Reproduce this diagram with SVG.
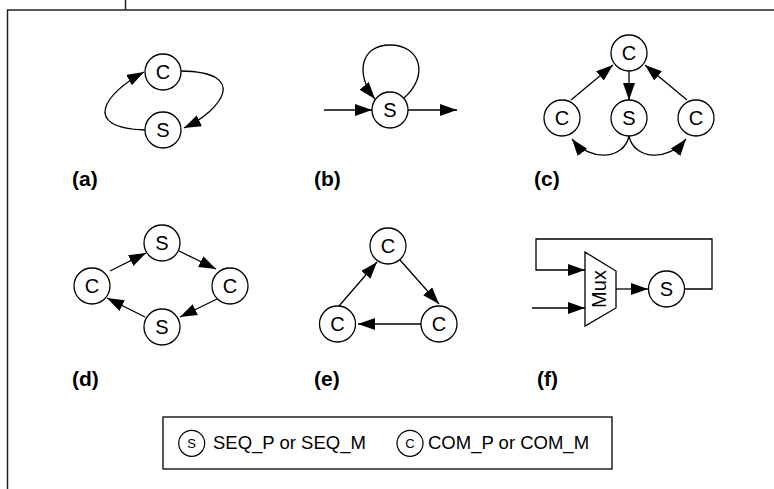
<svg xmlns="http://www.w3.org/2000/svg" width="774" height="489" viewBox="0 0 774 489">
<defs>
<marker id="ah" markerUnits="userSpaceOnUse" markerWidth="19" markerHeight="13" refX="17" refY="6" orient="auto">
<path d="M0,0 L17,6 L0,12 z" fill="#000"/>
</marker>
<style>
.n circle{fill:#fff;stroke:#000;stroke-width:1.3}
.n text{font-family:"Liberation Sans",Arial,sans-serif;font-size:20px;text-anchor:middle;fill:#000}
.e path,.e line,.e polyline{fill:none;stroke:#000;stroke-width:1.3}
.a{marker-end:url(#ah)}
.lbl{font-family:"Liberation Sans",Arial,sans-serif;font-size:21px;font-weight:bold;fill:#000}
.lg{font-family:"Liberation Sans",Arial,sans-serif;font-size:18.5px;fill:#000}
.lgc{fill:#fff;stroke:#000;stroke-width:1.2}
.lgt{font-family:"Liberation Sans",Arial,sans-serif;font-size:13px;text-anchor:middle;fill:#000}
</style>
</defs>
<rect width="774" height="489" fill="#fff"/>
<g id="frame" fill="none" stroke="#222" stroke-width="1.5">
<polyline points="7.5,489 7.5,10 774,10"/>
<line x1="125.5" y1="0" x2="125.5" y2="10"/>
</g>
<g id="connectors" class="e">
<path class="a" d="M145,130 C80,128 105,93 144,72"/>
<path class="a" d="M181,71 C250,72 222,110 184,128"/>
<path class="a" d="M404,98 C430,75 420,45 390,45 C360,45 355,75 375,99"/>
<line class="a" x1="324" y1="110" x2="372" y2="110"/>
<line class="a" x1="408" y1="110" x2="457" y2="110"/>
<line class="a" x1="571" y1="100" x2="613" y2="65"/>
<line class="a" x1="629" y1="71" x2="629" y2="100"/>
<line class="a" x1="687" y1="100" x2="645" y2="65"/>
<path class="a" d="M629,136 C624,160 590,162 572,139"/>
<path class="a" d="M629,136 C634,160 668,162 686,139"/>
<line class="a" x1="110" y1="271" x2="146" y2="253"/>
<line class="a" x1="179" y1="251" x2="216" y2="269"/>
<line class="a" x1="217" y1="299" x2="180" y2="317"/>
<line class="a" x1="145" y1="317" x2="107" y2="298"/>
<line class="a" x1="339" y1="306" x2="377" y2="262"/>
<line class="a" x1="400" y1="260" x2="439" y2="304"/>
<line class="a" x1="421" y1="324" x2="358" y2="324"/>
<line class="a" x1="616" y1="289" x2="648" y2="289"/>
<polyline class="a" points="685,289 712,289 712,239 536,239 536,270 585,270"/>
<line class="a" x1="532" y1="308" x2="585" y2="308"/>
</g>
<g id="a-C" class="n"><circle cx="163" cy="72" r="18"/><text x="163" y="79">C</text></g>
<g id="a-S" class="n"><circle cx="163" cy="130" r="18"/><text x="163" y="137">S</text></g>
<g id="b-S" class="n"><circle cx="390" cy="110" r="18"/><text x="390" y="117">S</text></g>
<g id="c-Ct" class="n"><circle cx="629" cy="53" r="18"/><text x="629" y="60">C</text></g>
<g id="c-Cl" class="n"><circle cx="562" cy="118" r="18"/><text x="562" y="125">C</text></g>
<g id="c-S" class="n"><circle cx="629" cy="118" r="18"/><text x="629" y="125">S</text></g>
<g id="c-Cr" class="n"><circle cx="696" cy="118" r="18"/><text x="696" y="125">C</text></g>
<g id="d-St" class="n"><circle cx="162" cy="243" r="18"/><text x="162" y="250">S</text></g>
<g id="d-Cl" class="n"><circle cx="92" cy="286" r="18"/><text x="92" y="293">C</text></g>
<g id="d-Cr" class="n"><circle cx="230" cy="286" r="18"/><text x="230" y="293">C</text></g>
<g id="d-Sb" class="n"><circle cx="162" cy="327" r="18"/><text x="162" y="334">S</text></g>
<g id="e-Ct" class="n"><circle cx="388" cy="246" r="18"/><text x="388" y="253">C</text></g>
<g id="e-Cl" class="n"><circle cx="337.5" cy="324" r="18"/><text x="337.5" y="331">C</text></g>
<g id="e-Cr" class="n"><circle cx="439" cy="324" r="18"/><text x="439" y="331">C</text></g>
<g id="f-mux" class="n"><polygon points="585,252 616,271 616,308 585,326" fill="#fff" stroke="#000" stroke-width="1.3"/><text transform="translate(606,289) rotate(-90)" x="0" y="0">Mux</text></g>
<g id="f-S" class="n"><circle cx="666.5" cy="289" r="18"/><text x="666.5" y="296">S</text></g>
<g id="labels">
<text class="lbl" x="72" y="186">(a)</text>
<text class="lbl" x="314" y="186">(b)</text>
<text class="lbl" x="534" y="186">(c)</text>
<text class="lbl" x="72" y="386">(d)</text>
<text class="lbl" x="314" y="386">(e)</text>
<text class="lbl" x="537" y="386">(f)</text>
</g>
<g id="legend">
<rect x="163" y="417" width="449" height="52" fill="none" stroke="#000" stroke-width="1.3"/>
<circle class="lgc" cx="191.7" cy="443.3" r="13"/><text class="lgt" x="191.7" y="448">S</text>
<text class="lg" x="213" y="449">SEQ_P or SEQ_M</text>
<circle class="lgc" cx="410" cy="443.3" r="13"/><text class="lgt" x="410" y="448">C</text>
<text class="lg" x="428" y="449">COM_P or COM_M</text>
</g>
</svg>
